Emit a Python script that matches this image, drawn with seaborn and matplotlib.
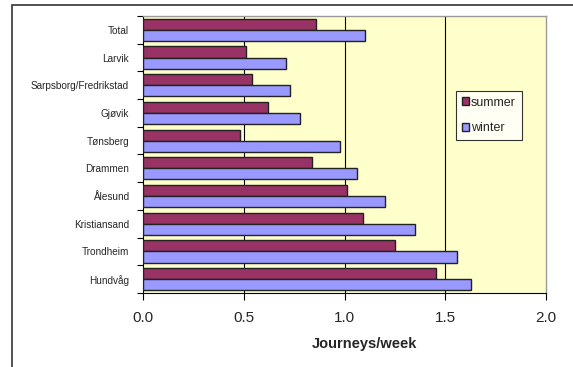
import matplotlib
matplotlib.use("Agg")
import matplotlib.pyplot as plt
import seaborn as sns
import pandas as pd
import numpy as np
from matplotlib.patches import Rectangle
from matplotlib.ticker import FixedLocator

cities = ["Total", "Larvik", "Sarpsborg/Fredrikstad", "Gjøvik", "Tønsberg",
          "Drammen", "Ålesund", "Kristiansand", "Trondheim", "Hundvåg"]
summer = [0.86, 0.51, 0.54, 0.62, 0.48, 0.84, 1.01, 1.09, 1.25, 1.455]
winter = [1.10, 0.71, 0.73, 0.78, 0.98, 1.06, 1.20, 1.35, 1.56, 1.63]
seasons = ["summer", "winter"]
x_ticks = [0.0, 0.5, 1.0, 1.5, 2.0]
x_label = "Journeys/week"

df = pd.DataFrame({
    "city": cities * 2,
    "value": summer + winter,
    "season": ["summer"] * len(cities) + ["winter"] * len(cities),
})

sns.set_style("white")
plt.rcParams["font.family"] = ["Liberation Sans", "DejaVu Sans"]

fig = plt.figure(figsize=(5.73, 3.67), dpi=100)
ax = fig.add_axes([143/573, 1 - 293/367, 403/573, 277/367])
ax.set_facecolor("#FFFFCC")

sns.barplot(data=df, y="city", x="value", hue="season", hue_order=seasons,
            order=cities, orient="h", palette=["#993366", "#9999FF"],
            saturation=1, edgecolor="#222222", linewidth=1.0, width=0.8,
            ax=ax, zorder=3)

ax.set_xlim(0, 2.0)
ax.set_ylim(len(cities) - 0.5, -0.5)
ax.set_xticks(x_ticks)
ax.set_xticklabels([f"{t:.1f}" for t in x_ticks], fontsize=11)
for t in x_ticks[1:-1]:
    ax.axvline(t, color="black", linewidth=0.8, zorder=1)

ax.set_yticks(range(len(cities)))
ax.set_yticklabels(cities, fontsize=7.2)
ax.tick_params(axis="y", which="major", length=0, pad=10)
ax.yaxis.set_minor_locator(FixedLocator(np.arange(-0.5, len(cities), 1.0)))
ax.tick_params(axis="y", which="minor", length=4, width=0.8, color="black", left=True)
ax.tick_params(axis="x", which="major", length=5, width=0.8, color="black",
               direction="out", bottom=True, pad=8)

ax.set_xlabel(x_label, fontsize=10.5, fontweight="bold", va="center")
ax.xaxis.set_label_coords((365 - 143) / 403, (293 - 344) / 277)
ax.set_ylabel("")

for s in ["top", "right"]:
    ax.spines[s].set_color("#999999")
    ax.spines[s].set_linewidth(1.0)
for s in ["left", "bottom"]:
    ax.spines[s].set_color("black")
    ax.spines[s].set_linewidth(0.8)

leg = ax.legend(loc="upper left", bbox_to_anchor=((456-143)/403, (293-91)/277),
                frameon=True, fancybox=False, fontsize=9, handlelength=0.6,
                handleheight=0.6, handletextpad=0.15, borderpad=0.45,
                labelspacing=1.1, borderaxespad=0)
leg.get_frame().set_edgecolor("black")
leg.get_frame().set_linewidth(0.8)
leg.get_frame().set_facecolor("white")

fig.patches.append(Rectangle((12/573, -0.1), 1.2, 1 - 5/367 + 0.1,
                             transform=fig.transFigure, fill=False,
                             edgecolor="#333333", linewidth=1.2, zorder=0))

fig.savefig("out.png", dpi=100)
